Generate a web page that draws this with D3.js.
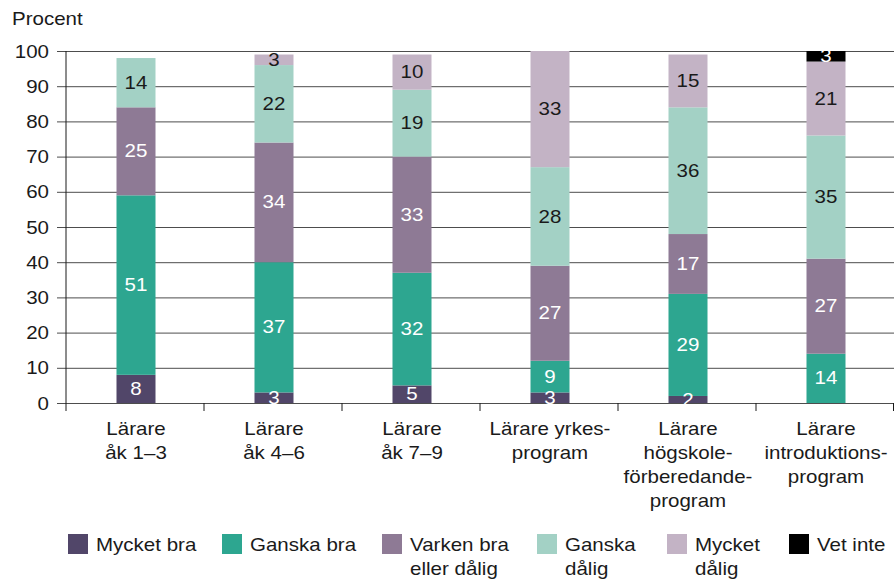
<!DOCTYPE html>
<html>
<head>
<meta charset="utf-8">
<script src="https://cdn.jsdelivr.net/npm/d3@7/dist/d3.min.js"></script>
<style>
  body { margin: 0; background: #fff; }
  svg text { font-family: "Liberation Sans", Arial, sans-serif; fill: #1a1a1a; }
</style>
</head>
<body>
<svg id="chart" width="894" height="580"></svg>
<script>
// data
const categories = ["Lärare åk 1–3", "Lärare åk 4–6", "Lärare åk 7–9", "Lärare yrkesprogram", "Lärare högskoleförberedande program", "Lärare introduktionsprogram"];
const categoryLines = [["Lärare", "åk 1–3"], ["Lärare", "åk 4–6"], ["Lärare", "åk 7–9"], ["Lärare yrkes-", "program"], ["Lärare", "högskole-", "förberedande-", "program"], ["Lärare", "introduktions-", "program"]];
const seriesNames = ["Mycket bra", "Ganska bra", "Varken bra eller dålig", "Ganska dålig", "Mycket dålig", "Vet inte"];
const legendLines = [["Mycket bra"], ["Ganska bra"], ["Varken bra", "eller dålig"], ["Ganska", "dålig"], ["Mycket", "dålig"], ["Vet inte"]];
const mycketBra   = [8, 3, 5, 3, 2, 0];
const ganskaBra   = [51, 37, 32, 9, 29, 14];
const varken      = [25, 34, 33, 27, 17, 27];
const ganskaDalig = [14, 22, 19, 28, 36, 35];
const mycketDalig = [0, 3, 10, 33, 15, 21];
const vetInte     = [0, 0, 0, 0, 0, 3];
const yTicks = [0, 10, 20, 30, 40, 50, 60, 70, 80, 90, 100];

const colors = ["#514669", "#2da690", "#8e7a95", "#a3d1c5", "#c3b3c5", "#000000"];
const labelColors = ["#fff", "#fff", "#fff", "#1a1a1a", "#1a1a1a", "#fff"];

const SX = 1.14;      // text in the original is drawn wider
const FS = 18;

const svg = d3.select("#chart");
const mLeft = 66, mRight = 894, mTop = 51, mBottom = 403;

const x = d3.scaleBand().domain(categories).range([mLeft, mRight]).padding(0);
const y = d3.scaleLinear().domain([0, 100]).range([mBottom, mTop]);
const barW = 39;

const allSeries = [mycketBra, ganskaBra, varken, ganskaDalig, mycketDalig, vetInte];
const rows = categories.map((c, i) => {
  const r = { cat: c };
  seriesNames.forEach((s, j) => r[s] = allSeries[j][i]);
  return r;
});
const stacked = d3.stack().keys(seriesNames)(rows);

// text helper: put text at x,y with horizontal stretch
function wtext(g, tx, ty, str) {
  return g.append("text")
    .attr("transform", `translate(${tx},${ty}) scale(${SX},1)`)
    .style("font-size", FS + "px")
    .text(str);
}

// y axis + gridlines
const yAxis = svg.append("g")
  .attr("transform", `translate(${mLeft},0)`)
  .call(d3.axisLeft(y).tickValues(yTicks).tickSizeInner(-(mRight - mLeft)).tickSizeOuter(0).tickPadding(17));
yAxis.select(".domain").remove();
yAxis.selectAll(".tick line").attr("x1", -9).attr("stroke", "#4d4d4d");
yAxis.selectAll(".tick text")
  .attr("x", null).attr("dy", null)
  .attr("dominant-baseline", "central")
  .attr("transform", `translate(-17,0) scale(${SX},1)`)
  .style("font-size", FS + "px")
  .style("font-family", "Liberation Sans, Arial, sans-serif")
  .attr("fill", "#1a1a1a");

// vertical axis line
svg.append("line")
  .attr("x1", mLeft).attr("x2", mLeft)
  .attr("y1", y(100)).attr("y2", mBottom + 8)
  .attr("stroke", "#1a1a1a");

// category ticks
const bounds = categories.map(c => x(c)).concat([mRight - 0.5]);
svg.selectAll(".ctick").data(bounds.slice(1)).enter().append("line")
  .attr("x1", d => d).attr("x2", d => d)
  .attr("y1", mBottom).attr("y2", mBottom + 8)
  .attr("stroke", "#1a1a1a");

// bars
const barG = svg.append("g");
stacked.forEach((layer, j) => {
  barG.selectAll(".s" + j).data(layer).enter().append("rect")
    .attr("x", d => x(d.data.cat) + x.bandwidth() / 2 - barW / 2 + 1)
    .attr("y", d => y(d[1]))
    .attr("width", barW)
    .attr("height", d => y(d[0]) - y(d[1]))
    .attr("fill", colors[j]);
});

// value labels
stacked.forEach((layer, j) => {
  layer.forEach(d => {
    const v = d[1] - d[0];
    if (!v) return;
    wtext(barG, x(d.data.cat) + x.bandwidth() / 2 + 1, y((d[0] + d[1]) / 2), v)
      .attr("text-anchor", "middle")
      .attr("dominant-baseline", "central")
      .style("fill", labelColors[j]);
  });
});

// category labels
categories.forEach((c, i) => {
  categoryLines[i].forEach((ln, k) => {
    wtext(svg, x(c) + x.bandwidth() / 2 + 1, 435 + k * 24, ln).attr("text-anchor", "middle");
  });
});

// y title
wtext(svg, 12, 25, "Procent");

// legend
const legendX = [68, 222, 382, 537, 667, 789];
const lg = svg.append("g");
seriesNames.forEach((s, i) => {
  lg.append("rect")
    .attr("x", legendX[i]).attr("y", 534)
    .attr("width", 20).attr("height", 20)
    .attr("fill", colors[i]);
  legendLines[i].forEach((ln, k) => {
    wtext(lg, legendX[i] + 28, 551 + k * 24, ln);
  });
});
</script>
</body>
</html>
